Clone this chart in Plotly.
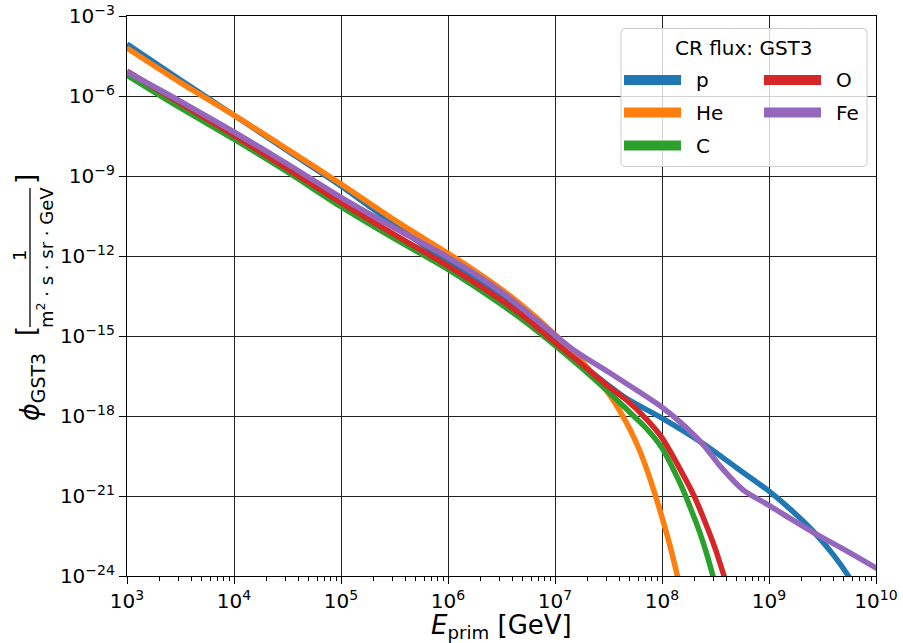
import plotly.graph_objects as go

# ---------------- data (log10 values) ----------------
logE_p = [3.0, 3.5, 4.0, 4.5, 5.0, 5.5, 6.0, 6.25, 6.5, 6.75, 7.0, 7.25, 7.5, 7.67, 8.0, 8.39, 8.7, 9.0, 9.2, 9.42, 9.6, 9.75, 9.8]
logF_p = [-4.05, -5.4, -6.72, -8.05, -9.37, -10.82, -12.24, -12.88, -13.55, -14.3, -15.15, -16.05, -16.85, -17.35, -18.08, -19.05, -19.95, -20.82, -21.5, -22.35, -23.2, -24.05, -24.4]

logE_He = [3.0, 3.5, 4.0, 4.5, 5.0, 5.5, 6.0, 6.25, 6.5, 6.75, 7.0, 7.2, 7.35, 7.5, 7.6, 7.7, 7.8, 7.9, 8.0, 8.08, 8.15]
logF_He = [-4.2, -5.5, -6.72, -8.0, -9.3, -10.65, -11.9, -12.55, -13.25, -14.05, -14.95, -15.73, -16.4, -17.15, -17.77, -18.5, -19.38, -20.5, -21.8, -22.95, -24.1]

logE_C = [3.0, 3.5, 4.0, 4.5, 5.0, 5.5, 6.0, 6.5, 6.75, 7.0, 7.25, 7.5, 7.67, 7.85, 8.0, 8.1, 8.2, 8.3, 8.36, 8.42, 8.48, 8.52]
logF_C = [-5.22, -6.45, -7.62, -8.85, -10.15, -11.35, -12.5, -13.82, -14.55, -15.35, -16.2, -17.1, -17.75, -18.45, -19.2, -19.95, -20.8, -21.8, -22.45, -23.2, -24.05, -24.6]

logE_O = [3.0, 3.5, 4.0, 4.5, 5.0, 5.5, 6.0, 6.5, 6.75, 7.0, 7.25, 7.5, 7.67, 7.85, 8.0, 8.17, 8.3, 8.42, 8.5, 8.58, 8.62]
logF_O = [-5.07, -6.28, -7.48, -8.73, -10.0, -11.2, -12.37, -13.66, -14.4, -15.25, -16.05, -16.9, -17.41, -18.1, -18.82, -20.0, -21.0, -22.15, -23.0, -24.0, -24.5]

logE_Fe = [3.0, 3.5, 4.0, 4.5, 5.0, 5.5, 6.0, 6.5, 6.75, 7.0, 7.18, 7.5, 7.67, 8.0, 8.17, 8.39, 8.55, 8.76, 9.0, 9.2, 9.42, 9.7, 10.0, 10.1]
logF_Fe = [-5.1, -6.2, -7.35, -8.55, -9.8, -10.95, -12.05, -13.35, -14.15, -14.97, -15.54, -16.35, -16.79, -17.67, -18.23, -19.1, -19.91, -20.78, -21.35, -21.85, -22.38, -23.0, -23.7, -23.95]

names = ["p", "He", "C", "O", "Fe"]
colors = ["#1f77b4", "#ff7f0e", "#2ca02c", "#d62728", "#9467bd"]

x_tick_exp = [3, 4, 5, 6, 7, 8, 9, 10]
y_tick_exp = [-3, -6, -9, -12, -15, -18, -21, -24]

legend_title = "CR flux: GST3"

# ---------------- figure ----------------
W, H = 903, 643
ML, MR, MT, MB = 127, 27, 16, 67
PW, PH = W - ML - MR, H - MT - MB
FONT = "DejaVu Sans"


def px(xp):
    return (xp - ML) / PW


def py(yp):
    return (MT + PH - yp) / PH


fig = go.Figure()
all_series = [(logE_p, logF_p), (logE_He, logF_He), (logE_C, logF_C), (logE_O, logF_O), (logE_Fe, logF_Fe)]
for (le, lf), name, col in zip(all_series, names, colors):
    fig.add_trace(go.Scatter(
        x=[10 ** v for v in le], y=[10 ** v for v in lf], mode="lines", name=name,
        line=dict(color=col, width=5.5, shape="spline", smoothing=0.8),
        showlegend=False, hoverinfo="skip"))

minor_x = [m * 10 ** e for e in range(3, 10) for m in range(2, 10)]

fig.update_xaxes(
    type="log", range=[3, 10],
    tickmode="array", tickvals=[10 ** e for e in x_tick_exp],
    ticktext=["10<sup>%d</sup>" % e for e in x_tick_exp],
    ticks="outside", ticklen=7, tickwidth=1.2, tickcolor="black",
    showgrid=True, gridcolor="#222222", gridwidth=1,
    showline=True, linecolor="black", linewidth=1.2, mirror=True,
    tickfont=dict(family=FONT, size=20, color="black"),
    minor=dict(tickmode="array", tickvals=minor_x, ticks="outside", ticklen=3.5,
               tickwidth=0.9, tickcolor="black", showgrid=False),
)
fig.update_yaxes(
    type="log", range=[-24, -3],
    tickmode="array", tickvals=[10.0 ** e for e in y_tick_exp],
    ticktext=["10<sup>\u2212%d</sup>" % (-e) for e in y_tick_exp],
    ticks="outside", ticklen=7, tickwidth=1.2, tickcolor="black",
    showgrid=True, gridcolor="#222222", gridwidth=1,
    showline=True, linecolor="black", linewidth=1.2, mirror=True,
    tickfont=dict(family=FONT, size=20, color="black"),
)

ann = []
shapes = []
# x-axis title
ann.append(dict(text="<i>E</i><sub>prim</sub> [GeV]", x=px(501), y=py(626), xref="paper", yref="paper",
                showarrow=False, xanchor="center", yanchor="middle", font=dict(family=FONT, size=26, color="black")))
# y-axis title pieces (rotated)
ann.append(dict(text="<i>\u03d5</i><sub>GST3</sub>", x=px(31), y=py(387), xref="paper", yref="paper",
                showarrow=False, textangle=-90, xanchor="center", yanchor="middle",
                font=dict(family=FONT, size=27, color="black")))
ann.append(dict(text="[", x=px(26), y=py(331), xref="paper", yref="paper", showarrow=False, textangle=-90,
                xanchor="center", yanchor="middle", font=dict(family=FONT, size=26, color="black")))
ann.append(dict(text="]", x=px(26), y=py(179), xref="paper", yref="paper", showarrow=False, textangle=-90,
                xanchor="center", yanchor="middle", font=dict(family=FONT, size=26, color="black")))
ann.append(dict(text="1", x=px(19), y=py(256), xref="paper", yref="paper", showarrow=False, textangle=-90,
                xanchor="center", yanchor="middle", font=dict(family=FONT, size=18, color="black")))
ann.append(dict(text="m<sup>2</sup> \u00b7 s \u00b7 sr \u00b7 GeV", x=px(45), y=py(258), xref="paper", yref="paper",
                showarrow=False, textangle=-90, xanchor="center", yanchor="middle",
                font=dict(family=FONT, size=18, color="black")))
shapes.append(dict(type="line", xref="paper", yref="paper", x0=px(30), x1=px(30), y0=py(188), y1=py(327),
                   line=dict(color="black", width=1.3)))

# legend frame (rounded rectangle)
lx0, lx1, ly0, ly1, r = 621, 867, 28.5, 166.5, 4


def P(a, b):
    return "%.5f,%.5f" % (px(a), py(b))


path = ("M " + P(lx0 + r, ly0) + " L " + P(lx1 - r, ly0) + " Q " + P(lx1, ly0) + " " + P(lx1, ly0 + r) +
        " L " + P(lx1, ly1 - r) + " Q " + P(lx1, ly1) + " " + P(lx1 - r, ly1) +
        " L " + P(lx0 + r, ly1) + " Q " + P(lx0, ly1) + " " + P(lx0, ly1 - r) +
        " L " + P(lx0, ly0 + r) + " Q " + P(lx0, ly0) + " " + P(lx0 + r, ly0) + " Z")
shapes.append(dict(type="path", path=path, xref="paper", yref="paper", layer="above",
                   fillcolor="rgba(255,255,255,0.8)", line=dict(color="#cccccc", width=1)))
ann.append(dict(text=legend_title, x=px(744), y=py(48), xref="paper", yref="paper", showarrow=False,
                xanchor="center", yanchor="middle", font=dict(family=FONT, size=20, color="black")))
slots = [(624, 694, 80), (624, 694, 112.6), (624, 694, 145.6), (764, 834, 80), (764, 834, 112.6)]
for (hx, tx, yy), name, col in zip(slots, names, colors):
    shapes.append(dict(type="line", xref="paper", yref="paper", layer="above",
                       x0=px(hx), x1=px(hx + 57), y0=py(yy), y1=py(yy), line=dict(color=col, width=10)))
    ann.append(dict(text=name, x=px(tx), y=py(yy), xref="paper", yref="paper", showarrow=False,
                    xanchor="left", yanchor="middle", font=dict(family=FONT, size=20, color="black")))

fig.update_layout(
    width=W, height=H, margin=dict(l=ML, r=MR, t=MT, b=MB, autoexpand=False),
    paper_bgcolor="white", plot_bgcolor="white",
    font=dict(family=FONT, color="black"),
    annotations=ann, shapes=shapes, showlegend=False,
)

fig.write_html("out.html")
